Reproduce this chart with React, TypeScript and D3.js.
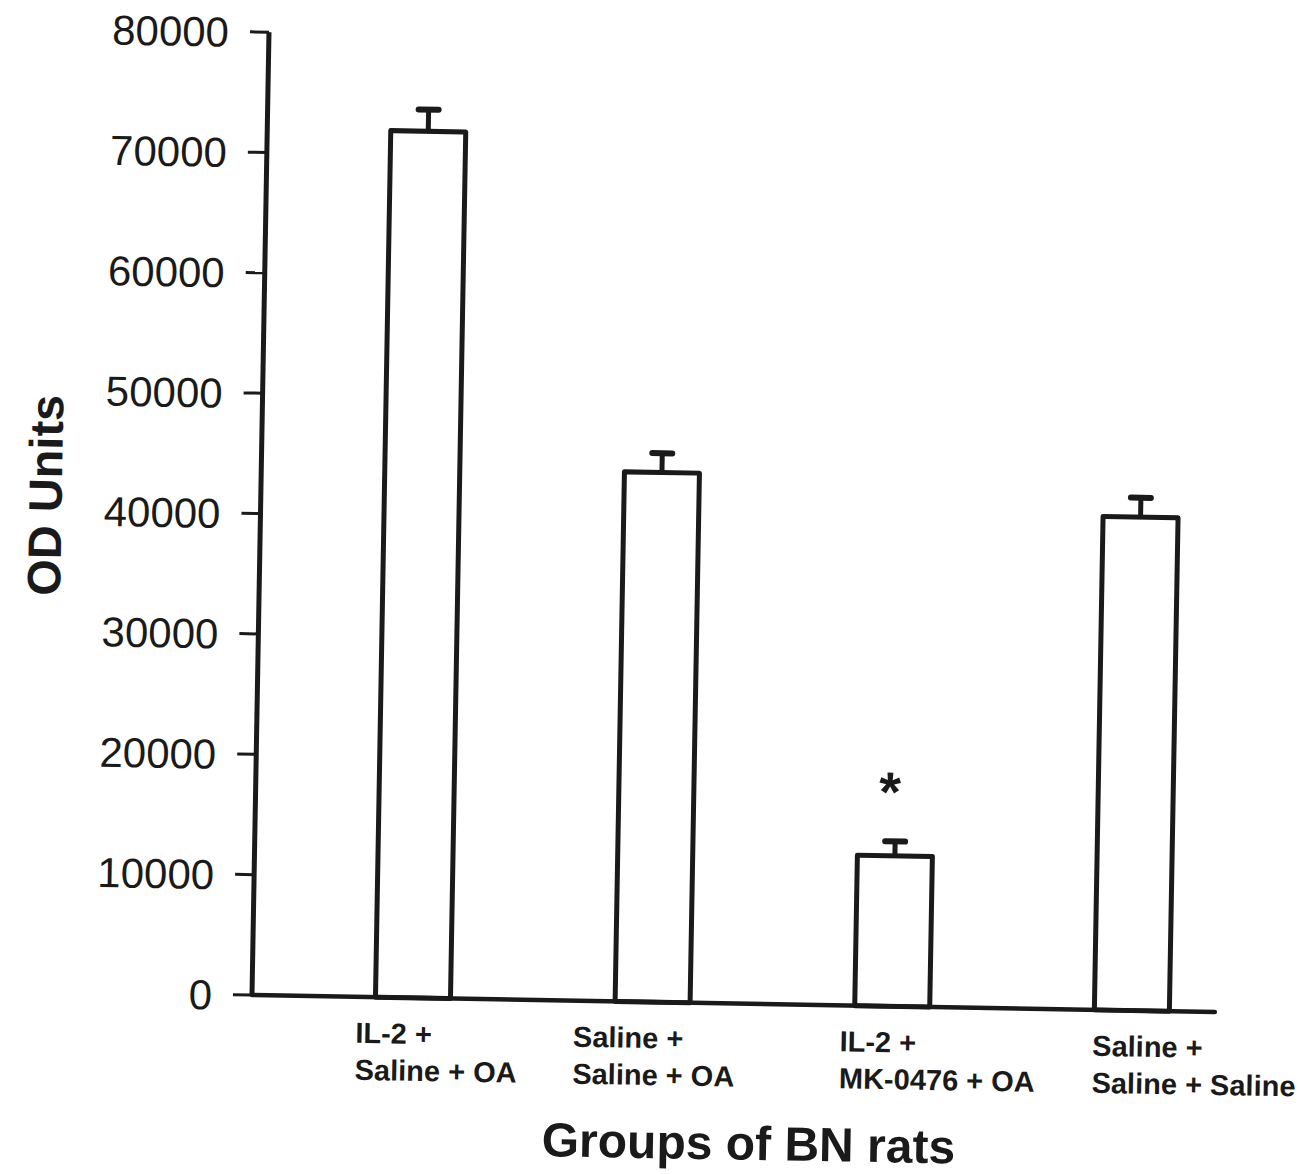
import React from 'react';
import * as d3 from 'd3';

const groups = ['g1', 'g2', 'g3', 'g4'];
const groupLines: string[][] = [
  ['IL-2 +', 'Saline + OA'],
  ['Saline +', 'Saline + OA'],
  ['IL-2 +', 'MK-0476 + OA'],
  ['Saline +', 'Saline + Saline'],
];
const odMeans = [72000, 44000, 12500, 41000];
const odErrors = [1800, 1600, 1200, 1600];
const significant = [false, false, true, false];
const yTicks = [0, 10000, 20000, 30000, 40000, 50000, 60000, 70000, 80000];

// layout: the scan is tilted about one degree, so everything is drawn in a rotated frame
const axisLen = 963;
const tilt = 1.01;
const labelNudge = [-57, -79, -52, -39];
const font = '"Liberation Sans", Arial, Helvetica, sans-serif';

export default function App() {
  const x = d3.scalePoint<string>().domain(groups).range([161, 880]);
  const y = d3.scaleLinear().domain([0, 80000]).range([axisLen, 0]);
  const barW = 75;
  const capW = 20;

  return (
    <svg
      width={1302}
      height={1174}
      style={{ position: 'absolute', left: 0, top: 0, background: '#fff' }}
    >
      <rect width={1302} height={1174} fill="#fff" />
      <g transform={`translate(252,995) rotate(${tilt}) translate(0,${-axisLen})`} fontFamily={font}>
        {groups.map((g, i) => {
          const cx = x(g)!;
          const top = y(odMeans[i]);
          const errTop = y(odMeans[i] + odErrors[i]);
          return (
            <g key={g}>
              <line x1={cx} x2={cx} y1={top} y2={errTop} stroke="#1a1a1a" strokeWidth={5} />
              <line
                x1={cx - capW / 2}
                x2={cx + capW / 2}
                y1={errTop}
                y2={errTop}
                stroke="#1a1a1a"
                strokeWidth={6}
                strokeLinecap="round"
              />
              <rect
                x={cx - barW / 2}
                y={top}
                width={barW}
                height={y(0) - top}
                fill="#fff"
                stroke="#1a1a1a"
                strokeWidth={5}
                strokeLinejoin="round"
              />
              {significant[i] && (
                <text
                  x={cx - 6}
                  y={errTop - 30}
                  textAnchor="middle"
                  fontSize={56}
                  fontWeight="bold"
                  fill="#1a1a1a"
                >
                  *
                </text>
              )}
              {groupLines[i].map((ln, k) => (
                <text
                  key={k}
                  x={cx + labelNudge[i]}
                  y={axisLen + 46 + k * 37}
                  fontSize={29}
                  fontWeight="bold"
                  fill="#1a1a1a"
                >
                  {ln}
                </text>
              ))}
            </g>
          );
        })}

        {/* y axis */}
        <line x1={0} x2={0} y1={0} y2={axisLen} stroke="#1a1a1a" strokeWidth={5} />
        {yTicks.map((t) => (
          <g key={t} transform={`translate(0,${y(t)})`}>
            <line x1={-19} x2={0} stroke="#1a1a1a" strokeWidth={3} />
            <text x={-40} dy="0.36em" textAnchor="end" fontSize={42} fill="#1a1a1a">
              {t}
            </text>
          </g>
        ))}

        {/* x axis */}
        <line x1={0} x2={axisLen} y1={axisLen} y2={axisLen} stroke="#1a1a1a" strokeWidth={4.5} strokeLinecap="round" />

        <text
          transform={`translate(-199,${axisLen - 496}) rotate(-90)`}
          textAnchor="middle"
          fontSize={47}
          fontWeight="bold"
          fill="#1a1a1a"
        >
          OD Units
        </text>
        <text x={499} y={axisLen + 156} textAnchor="middle" fontSize={48} fontWeight="bold" fill="#1a1a1a">
          Groups of BN rats
        </text>
      </g>
    </svg>
  );
}
